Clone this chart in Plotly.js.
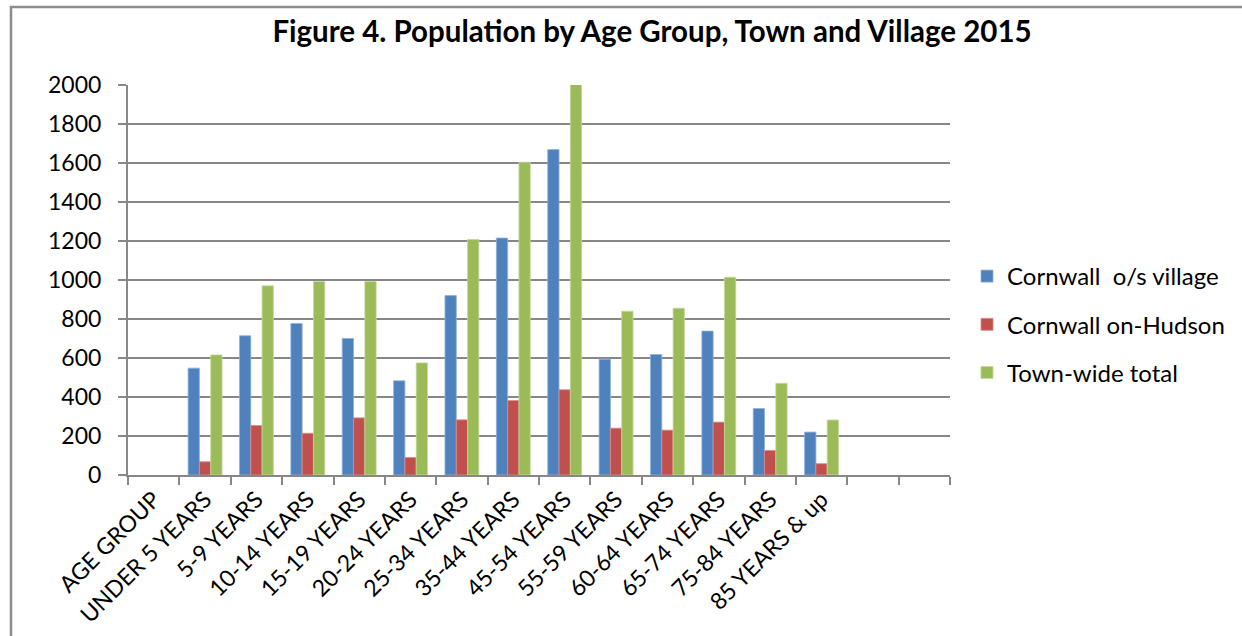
<!DOCTYPE html>
<html>
<head>
<meta charset="utf-8">
<script src="https://cdn.plot.ly/plotly-3.0.1.min.js"></script>
<style>
  html, body { margin: 0; padding: 0; background: #ffffff; }
  #chart { width: 1242px; height: 636px; }
</style>
</head>
<body>
<div id="chart"></div>
<script>
// Full category axis: a header slot, the age groups, and two trailing empty slots
const axisCategories = ['AGE GROUP', 'UNDER 5 YEARS', '5-9 YEARS', '10-14 YEARS', '15-19 YEARS',
  '20-24 YEARS', '25-34 YEARS', '35-44 YEARS', '45-54 YEARS', '55-59 YEARS', '60-64 YEARS',
  '65-74 YEARS', '75-84 YEARS', '85 YEARS & up', ' ', '  '];

// Age groups that carry data
const ageGroups = ['UNDER 5 YEARS', '5-9 YEARS', '10-14 YEARS', '15-19 YEARS', '20-24 YEARS',
  '25-34 YEARS', '35-44 YEARS', '45-54 YEARS', '55-59 YEARS', '60-64 YEARS', '65-74 YEARS',
  '75-84 YEARS', '85 YEARS & up'];

// Population counts by series
const outsideVillage = [548, 714, 777, 700, 483, 920, 1215, 1669, 594, 618, 738, 341, 220];
const onHudson       = [68, 254, 214, 293, 90, 283, 382, 437, 240, 230, 271, 126, 58];
const townTotal      = [616, 970, 992, 992, 575, 1208, 1604, 2005, 840, 855, 1014, 470, 282];

const seriesNames = ['Cornwall\u00A0\u00A0o/s village', 'Cornwall on-Hudson', 'Town-wide total'];
const yTicks = [0, 200, 400, 600, 800, 1000, 1200, 1400, 1600, 1800, 2000];

const colors = ['#4F81BD', '#C0504D', '#9BBB59'];
const edges = ['#8FB0DA', '#DB8B89', '#C3D99A'];
const gridColor = '#878787';
const font = 'Lato, "Open Sans", "Liberation Sans", sans-serif';

const seriesValues = [outsideVillage, onHudson, townTotal];
const traces = seriesValues.map((vals, i) => ({
  type: 'bar',
  name: seriesNames[i],
  x: ageGroups,
  y: vals,
  legendgroup: 'g' + i,
  marker: { color: colors[i], line: { color: edges[i], width: 0.8 } },
  hoverinfo: 'x+y+name'
}));

// Pixel helpers for placing paper-referenced items
const px = (p) => (p - 128) / 822;
const py = (p) => (475 - p) / 390;

const layout = {
  width: 1242,
  height: 636,
  paper_bgcolor: '#ffffff',
  plot_bgcolor: '#ffffff',
  margin: { l: 128, r: 292, t: 85, b: 161 },
  font: { family: font, color: '#000000', size: 23 },
  title: {
    text: '<b>Figure 4. Population by Age Group, Town and Village 2015</b>',
    font: { family: font, size: 29.5, color: '#000000' },
    x: 652 / 1242,
    xanchor: 'center',
    y: 1 - 32 / 636,
    yanchor: 'middle'
  },
  barmode: 'group',
  bargap: 0.34,
  bargroupgap: 0,
  showlegend: true,
  legend: {
    x: px(967),
    xanchor: 'left',
    y: py(254),
    yanchor: 'top',
    font: { family: font, size: 24, color: '#000000' },
    tracegroupgap: 14,
    bgcolor: 'rgba(0,0,0,0)',
    itemclick: false
  },
  xaxis: {
    type: 'category',
    categoryorder: 'array',
    categoryarray: axisCategories,
    range: [-0.5, axisCategories.length - 0.5],
    tickmode: 'array',
    tickvals: axisCategories,
    ticktext: axisCategories,
    tickson: 'boundaries',
    ticks: 'outside',
    ticklen: 8,
    tickwidth: 2,
    tickcolor: gridColor,
    tickangle: -45,
    tickfont: { family: font, size: 23, color: '#000000' },
    showline: true,
    linecolor: gridColor,
    linewidth: 2,
    showgrid: false,
    zeroline: false,
    fixedrange: true
  },
  yaxis: {
    range: [0, 2000],
    tickmode: 'array',
    tickvals: yTicks,
    ticktext: yTicks.map(String),
    ticks: 'outside',
    ticklen: 8,
    tickwidth: 2,
    tickcolor: gridColor,
    ticklabelstandoff: 12,
    tickfont: { family: font, size: 23, color: '#000000' },
    showline: true,
    linecolor: gridColor,
    linewidth: 2,
    showgrid: true,
    gridcolor: gridColor,
    gridwidth: 2,
    zeroline: false,
    fixedrange: true
  },
  shapes: [
    // Frame along the left and top edges of the figure
    { type: 'line', xref: 'paper', yref: 'paper', x0: px(11), x1: px(11), y0: py(6), y1: py(640),
      line: { color: '#8C8C8C', width: 2.5 } },
    { type: 'line', xref: 'paper', yref: 'paper', x0: px(10), x1: px(1245), y0: py(7), y1: py(7),
      line: { color: '#8C8C8C', width: 2.5 } }
  ]
};

Plotly.newPlot('chart', traces, layout, { displayModeBar: false, responsive: false });
</script>
</body>
</html>
